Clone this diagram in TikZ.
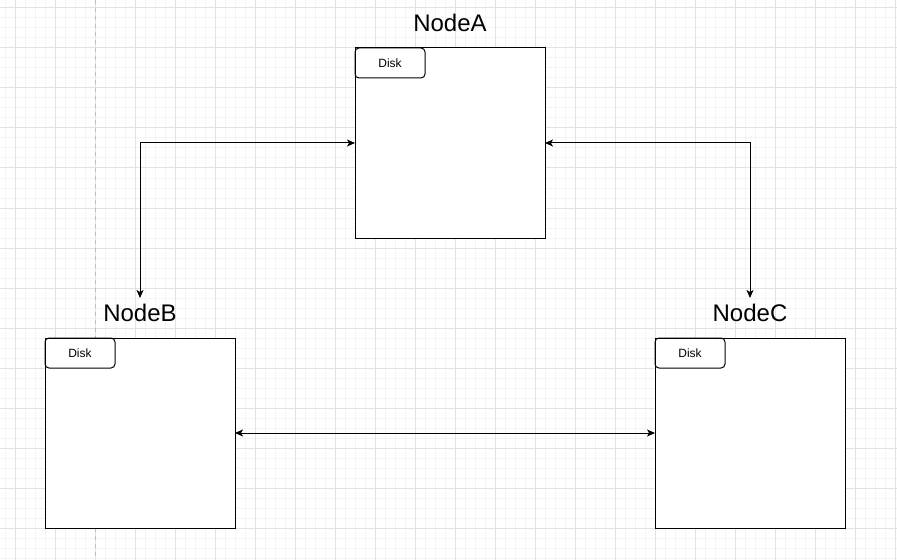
\documentclass[tikz,border=0pt]{standalone}
\usepackage{fontspec}
\setmainfont{Liberation Sans}
\usepackage{xcolor}
\usepackage{tikz}
\definecolor{GridMajor}{HTML}{E2E2E2}
\definecolor{GridMinor}{HTML}{F4F4F4}
\definecolor{PageLine}{HTML}{BDBDBD}
\usetikzlibrary{arrows.meta,positioning}
\tikzset{
    server/.style={draw, line width=0.75pt, fill=white, inner sep=0pt, outer sep=0pt,
        minimum width=142.5pt, minimum height=142.5pt},
    disk/.style={draw, line width=0.75pt, rounded corners=3pt, inner sep=0pt, outer sep=0pt,
        minimum width=52.5pt, minimum height=22.5pt, font=\fontsize{9pt}{10pt}\selectfont},
    title/.style={inner sep=0pt, font=\fontsize{18pt}{20pt}\selectfont},
    link/.style={<->, line width=0.75pt, >={Stealth[length=6pt, width=5.25pt, inset=1.5pt]}}
}

\begin{document}
\begin{tikzpicture}[x=0.75pt, y=-0.75pt]
            \useasboundingbox (0,0) rectangle (897,560);

            % Draw the background grid
            \foreach \x in {5,15,...,895}{
                \draw[GridMinor, line width=0.75pt] (\x,0) -- (\x,560);
            }
            \foreach \y in {8,18,...,558}{
                \draw[GridMinor, line width=0.75pt] (0,\y) -- (897,\y);
            }
            \foreach \x in {15,55,...,895}{
                \draw[GridMajor, line width=0.75pt] (\x,0) -- (\x,560);
            }
            \foreach \y in {8,48,...,528}{
                \draw[GridMajor, line width=0.75pt] (0,\y) -- (897,\y);
            }

            % draw the page border
            \draw[PageLine, line width=0.75pt, dash pattern=on 3pt off 3pt] (95,0) -- (95,560);

            % Draw the three machines with their disks
            \foreach \n/\x/\y in {A/450/143, B/140/433, C/750/433}{
                \node[server] (node\n) at (\x,\y) {};
                \node[disk, anchor=north west] (disk\n) at (node\n.north west) {Disk};
                \node[title] (title\n) at (\x,\y-120) {Node\n};
            }

            % Free ends of the arrows above the titles
            \coordinate (tipB) at (140,298);
            \coordinate (tipC) at (750,298);

            % Draw the links
            \draw[link] (nodeA.west) -| (tipB);
            \draw[link] (nodeA.east) -| (tipC);
            \draw[link] (nodeB.east) -- (nodeC.west);
        \end{tikzpicture}
\end{document}
